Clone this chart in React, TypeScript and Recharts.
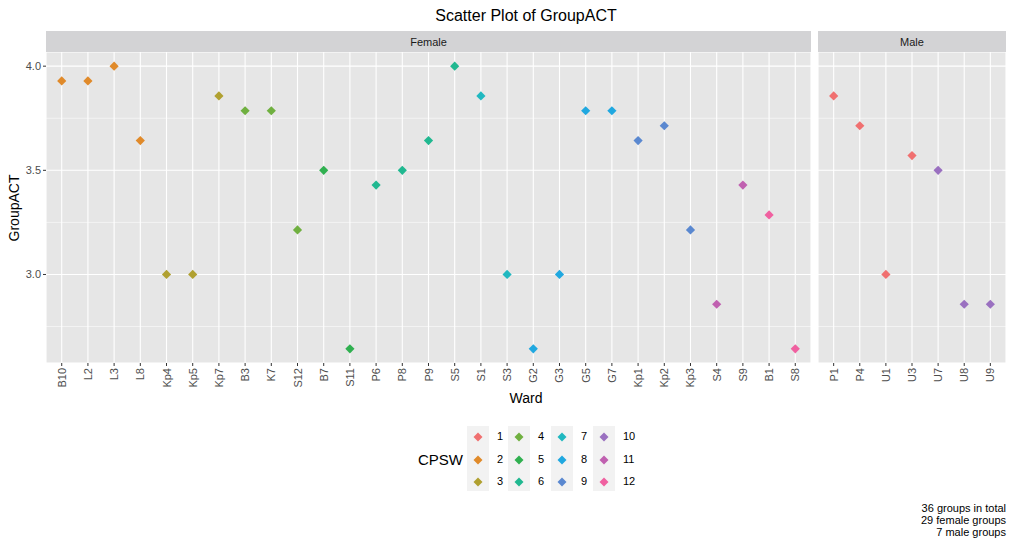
import React from 'react';
import { ScatterChart, Scatter, XAxis, YAxis, CartesianGrid, Cell } from 'recharts';

// Female panel
const femaleWards = ['B10', 'L2', 'L3', 'L8', 'Kp4', 'Kp5', 'Kp7', 'B3', 'K7', 'S12', 'B7', 'S11', 'P6', 'P8', 'P9', 'S5', 'S1', 'S3', 'G2', 'G3', 'G5', 'G7', 'Kp1', 'Kp2', 'Kp3', 'S4', 'S9', 'B1', 'S8'];
const femaleAct = [3.929, 3.929, 4.0, 3.643, 3.0, 3.0, 3.857, 3.786, 3.786, 3.214, 3.5, 2.643, 3.429, 3.5, 3.643, 4.0, 3.857, 3.0, 2.643, 3.0, 3.786, 3.786, 3.643, 3.714, 3.214, 2.857, 3.429, 3.286, 2.643];
const femaleCpsw = [2, 2, 2, 2, 3, 3, 3, 4, 4, 4, 5, 5, 6, 6, 6, 6, 7, 7, 8, 8, 8, 8, 9, 9, 9, 11, 11, 12, 12];

// Male panel
const maleWards = ['P1', 'P4', 'U1', 'U3', 'U7', 'U8', 'U9'];
const maleAct = [3.857, 3.714, 3.0, 3.571, 3.5, 2.857, 2.857];
const maleCpsw = [1, 1, 1, 1, 10, 10, 10];

const cpswLevels = [1, 2, 3, 4, 5, 6, 7, 8, 9, 10, 11, 12];
const cpswColors = ['#F07070', '#E08A2A', '#B0A030', '#70B040', '#30B050', '#20B890', '#20B8C0', '#20A8E0', '#5A88D0', '#9A70C0', '#C060B0', '#F060A0'];

const yTicks = [3.0, 3.5, 4.0];
const yMinor = [2.75, 3.25, 3.75];
const yDomain = [2.575, 4.068];

const footerLines = ['36 groups in total', '29 female groups', '7 male groups'];

const FONT = '"Liberation Sans", Arial, sans-serif';
const PANEL_BG = '#E6E6E6';
const STRIP_BG = '#D3D3D5';

const build = (wards: string[], act: number[], cpsw: number[]) =>
  wards.map((w, i) => ({ ward: w, act: act[i], cpsw: cpsw[i] }));

const femaleData = build(femaleWards, femaleAct, femaleCpsw);
const maleData = build(maleWards, maleAct, maleCpsw);

const colorOf = (level: number) => cpswColors[cpswLevels.indexOf(level)];

// filled diamond, like ggplot shape 18
const Diamond = (props: any) => {
  const { cx, cy, payload } = props;
  const r = 4.6;
  return (
    <polygon
      points={`${cx},${cy - r} ${cx + r},${cy} ${cx},${cy + r} ${cx - r},${cy}`}
      fill={colorOf(payload.cpsw)}
    />
  );
};

const WardTick = ({ x, y, payload }: any) => (
  <text
    x={x}
    y={y}
    transform={`rotate(-90 ${x} ${y})`}
    textAnchor="end"
    dominantBaseline="central"
    fontSize={11}
    fontFamily={FONT}
    fill="#4D4D4D"
  >
    {payload.value}
  </text>
);

const PLOT_H = 311;
const AXIS_H = 45;

const Panel = ({ data, width, showY }: { data: any[]; width: number; showY: boolean }) => {
  const step = (width - (showY ? 46 : 0)) / (data.length + 0.2);
  const pad = step * 0.6;
  return (
    <ScatterChart width={width} height={PLOT_H + AXIS_H} margin={{ top: 0, right: 0, bottom: 0, left: 0 }}>
      <CartesianGrid fill={PANEL_BG} fillOpacity={1} stroke="#FFFFFF" strokeWidth={1.1} />
      <CartesianGrid vertical={false} horizontalValues={yMinor} stroke="#FFFFFF" strokeWidth={0.55} />
      <XAxis
        dataKey="ward"
        type="category"
        scale="point"
        allowDuplicatedCategory={false}
        padding={{ left: pad, right: pad }}
        height={AXIS_H}
        axisLine={false}
        tickSize={3}
        tickMargin={2}
        tickLine={{ stroke: '#333333' }}
        tick={<WardTick />}
        interval={0}
      />
      <YAxis
        dataKey="act"
        type="number"
        domain={yDomain}
        ticks={yTicks}
        hide={!showY}
        width={46}
        axisLine={false}
        tickSize={3}
        tickMargin={2}
        tickLine={{ stroke: '#333333' }}
        tick={{ fontSize: 11, fill: '#4D4D4D', fontFamily: FONT }}
        tickFormatter={(v: number) => v.toFixed(1)}
        allowDataOverflow
      />
      <Scatter data={data} dataKey="act" shape={<Diamond />} isAnimationActive={false}>
        {data.map((d, i) => (
          <Cell key={`pt-${i}`} fill={colorOf(d.cpsw)} />
        ))}
      </Scatter>
    </ScatterChart>
  );
};

const Legend = () => {
  const cols = [0, 1, 2, 3];
  const colLeft = [467, 508, 551, 593];
  return (
    <>
      <div style={{ position: 'absolute', left: 418, top: 451, fontSize: 15, color: '#000' }}>CPSW</div>
      {cols.map((c) => (
        <div key={c} style={{ position: 'absolute', left: colLeft[c], top: 426 }}>
          <div style={{ position: 'absolute', left: 0, top: 0, width: 22, height: 65, background: '#F2F2F2' }} />
          {cpswLevels.slice(c * 3, c * 3 + 3).map((lvl, r) => (
            <React.Fragment key={lvl}>
              <svg
                width={22}
                height={22}
                style={{ position: 'absolute', left: 0, top: r * 22.5 }}
              >
                <polygon points="11,6.5 15.5,11 11,15.5 6.5,11" fill={colorOf(lvl)} />
              </svg>
              <div
                style={{
                  position: 'absolute',
                  left: 30,
                  top: r * 22.5 + 4,
                  fontSize: 11,
                  color: '#000',
                  lineHeight: '13px',
                }}
              >
                {lvl}
              </div>
            </React.Fragment>
          ))}
        </div>
      ))}
    </>
  );
};

export default function App() {
  return (
    <div
      style={{
        position: 'absolute',
        left: 0,
        top: 0,
        width: 1014,
        height: 544,
        background: '#FFFFFF',
        fontFamily: FONT,
        overflow: 'hidden',
      }}
    >
      <div style={{ position: 'absolute', left: 46, width: 960, top: 7, textAlign: 'center', fontSize: 16, color: '#000' }}>
        Scatter Plot of GroupACT
      </div>

      {/* facet strips */}
      <div style={{ position: 'absolute', left: 46, top: 31, width: 765, height: 21, background: STRIP_BG, fontSize: 11, color: '#1A1A1A', textAlign: 'center', lineHeight: '22px' }}>
        Female
      </div>
      <div style={{ position: 'absolute', left: 818, top: 31, width: 188, height: 21, background: STRIP_BG, fontSize: 11, color: '#1A1A1A', textAlign: 'center', lineHeight: '22px' }}>
        Male
      </div>

      <div style={{ position: 'absolute', left: 0, top: 52 }}>
        <Panel data={femaleData} width={811} showY />
      </div>
      <div style={{ position: 'absolute', left: 818, top: 52 }}>
        <Panel data={maleData} width={188} showY={false} />
      </div>

      {/* axis titles */}
      <div
        style={{
          position: 'absolute',
          left: 14,
          top: 208,
          fontSize: 14,
          color: '#000',
          transform: 'translate(-50%, -50%) rotate(-90deg)',
          whiteSpace: 'nowrap',
        }}
      >
        GroupACT
      </div>
      <div style={{ position: 'absolute', left: 46, width: 960, top: 390, textAlign: 'center', fontSize: 14, color: '#000' }}>
        Ward
      </div>

      <Legend />

      <div style={{ position: 'absolute', right: 8, top: 502, textAlign: 'right', fontSize: 11, lineHeight: '12px', color: '#000' }}>
        {footerLines.map((l) => (
          <div key={l}>{l}</div>
        ))}
      </div>
    </div>
  );
}
